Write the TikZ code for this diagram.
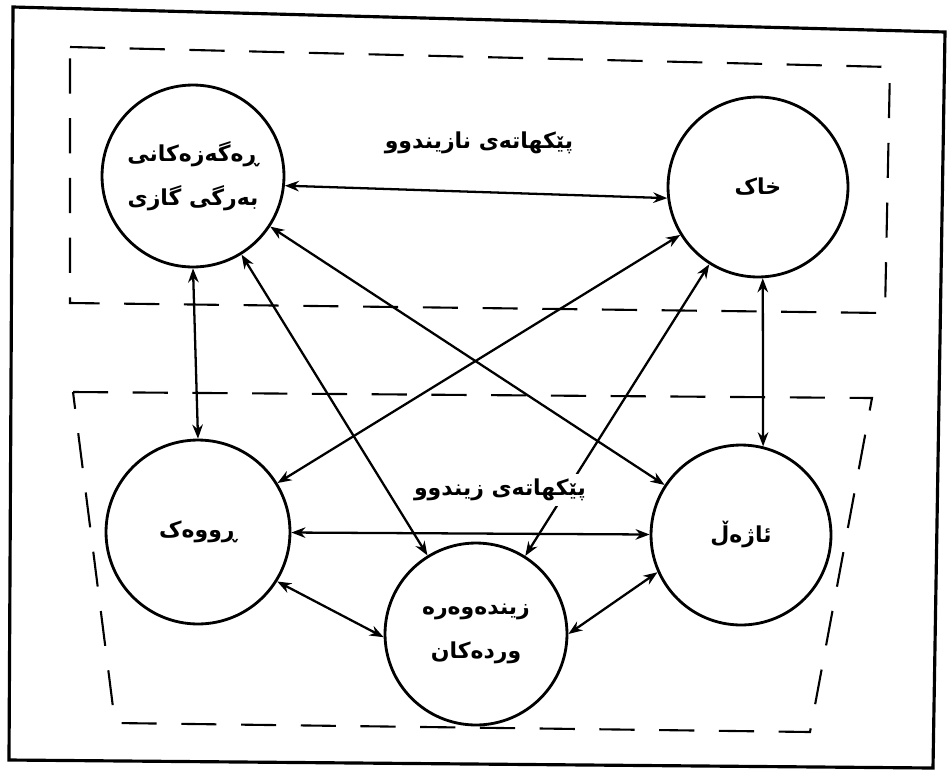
\documentclass[tikz,border=0pt]{standalone}
\usepackage{fontspec}
\usepackage{tikz}
\usetikzlibrary{arrows.meta, positioning}
\TeXXeTstate=1
\newfontfamily\arabicfont[Script=Arabic]{DejaVu Sans}
\newcommand{\kur}[1]{\beginR #1\endR}

\begin{document}
\begin{tikzpicture}[
    x=0.02cm, y=-0.02cm,
    part/.style={circle, draw, line width=1.6pt, inner sep=0pt, align=center, font=\arabicfont\bfseries\fontsize{12.5}{25}\selectfont},
    grouplabel/.style={fill=white, inner sep=3pt, font=\arabicfont\bfseries\fontsize{12.5}{14}\selectfont},
    groupbox/.style={line width=1.2pt, dash pattern=on 20pt off 14pt},
    arrow/.style={{Stealth[length=8pt,width=6pt]}-{Stealth[length=8pt,width=6pt]}, line width=1.3pt}
]
    \useasboundingbox (0,0) rectangle (950,775);

    % frame and the two groups
    \draw[line width=1.8pt] (13,7) -- (945,32) -- (933,768) -- (9,760) -- cycle;
    \draw[groupbox] (70,47) -- (890,67) -- (885,313) -- (70,303) -- cycle;
    \draw[groupbox] (73,392) -- (872,398) -- (810,732) -- (115,723) -- cycle;

    \node[part, minimum size=3.64cm] (gas) at (193,176) {\kur{ڕەگەزەکانی}\\\kur{بەرگی گازی}};
    \node[part, minimum size=3.6cm] (soil) at (758,187) {\kur{خاک}};
    \node[part, minimum size=3.68cm] (plant) at (198,532) {\kur{ڕووەک}};
    \node[part, minimum size=3.6cm] (animal) at (741,535) {\kur{ئاژەڵ}};
    \node[part, minimum size=3.64cm] (micro) at (476,634) {\kur{زیندەوەرە}\\\kur{وردەکان}};

    \node[grouplabel] (nonliving) at (479,143) {\kur{پێکهاتەی نازیندوو}};

    \draw[arrow] (gas.-6) -- (soil.187);
    \draw[arrow] (gas.south) -- (plant.north);
    \draw[arrow] (gas) -- (animal);
    \draw[arrow] (gas) -- (micro);
    \draw[arrow] (soil) -- (plant);
    \draw[arrow] (soil) -- (micro);
    \draw[arrow] (soil.-87) -- (animal.76);
    \draw[arrow] (plant) -- (animal);
    \draw[arrow] (plant.-32) -- (micro.182);
    \draw[arrow] (micro.0) -- (animal.204);

    \node[grouplabel] (living) at (500,490) {\kur{پێکهاتەی زیندوو}};
\end{tikzpicture}
\end{document}
